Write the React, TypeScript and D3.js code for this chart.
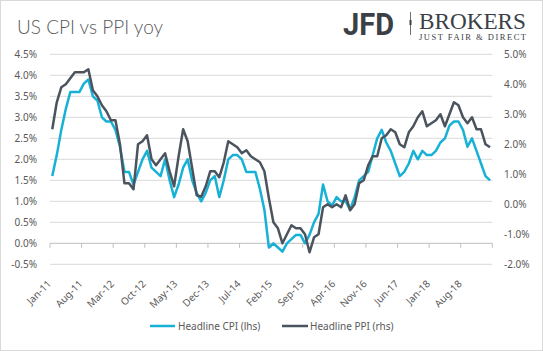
import React from 'react';
import * as d3 from 'd3';

// monthly yoy %, Jan-11 .. Feb-19
const cpi = [
  1.6, 2.1, 2.7, 3.2, 3.6, 3.6, 3.6, 3.8, 3.9, 3.5, 3.4, 3.0,
  2.9, 2.9, 2.7, 2.3, 1.7, 1.7, 1.4, 1.7, 2.0, 2.2, 1.8, 1.7,
  1.6, 2.0, 1.5, 1.1, 1.4, 1.8, 2.0, 1.5, 1.2, 1.0, 1.2, 1.5,
  1.6, 1.1, 1.5, 2.0, 2.1, 2.1, 2.0, 1.7, 1.7, 1.7, 1.3, 0.8,
  -0.1, 0.0, -0.1, -0.2, 0.0, 0.1, 0.2, 0.2, 0.0, 0.2, 0.5, 0.7,
  1.4, 1.0, 0.9, 1.1, 1.0, 1.0, 0.8, 1.1, 1.5, 1.6, 1.7, 2.1,
  2.5, 2.7, 2.4, 2.2, 1.9, 1.6, 1.7, 1.9, 2.2, 2.0, 2.2, 2.1,
  2.1, 2.2, 2.4, 2.5, 2.8, 2.9, 2.9, 2.7, 2.3, 2.5, 2.2, 1.9,
  1.6, 1.5,
];

const ppi = [
  2.5, 3.4, 3.9, 4.0, 4.2, 4.4, 4.4, 4.4, 4.5, 3.8, 3.6, 3.3,
  3.1, 2.8, 2.8, 2.0, 0.7, 0.7, 0.5, 2.0, 2.1, 2.3, 1.5, 1.3,
  1.5, 1.7, 1.1, 0.6, 1.6, 2.5, 2.1, 1.2, 0.3, 0.25, 0.6, 1.1,
  1.1, 0.9, 1.4, 2.1, 2.0, 1.9, 1.7, 1.8, 1.6, 1.5, 1.4, 1.1,
  0.2, -0.6, -0.8, -1.3, -1.0, -0.7, -0.8, -0.8, -1.0, -1.6, -1.1, -1.0,
  -0.1, 0.0, -0.1, 0.0, -0.1, 0.3, -0.2, 0.0, 0.7, 0.8, 1.3, 1.6,
  1.6, 2.2, 2.3, 2.5, 2.4, 2.0, 1.9, 2.4, 2.6, 2.9, 3.1, 2.6,
  2.7, 2.8, 3.0, 2.6, 3.0, 3.4, 3.3, 2.9, 2.7, 2.9, 2.5, 2.5,
  2.0, 1.9,
];

const leftTicks = [-0.5, 0, 0.5, 1, 1.5, 2, 2.5, 3, 3.5, 4, 4.5];
const rightTicks = [-2, -1, 0, 1, 2, 3, 4, 5];
const labelEvery = 7;

const fmtMonth = d3.timeFormat('%b-%y');
const months = d3.timeMonth.range(new Date(2011, 0, 1), new Date(2019, 2, 1)).map(fmtMonth);

const W = 543, H = 351;
const plot = { left: 50, right: 492.3, top: 54.3, bottom: 264.3 };
const cpiColor = '#17b1d6';
const ppiColor = '#4b545e';
const textColor = '#595959';
const font = "'Noto Sans', sans-serif";

const App = () => {
  const x = d3.scalePoint<string>().domain(months).range([plot.left, plot.right]).padding(0.5);
  const step = x.step();
  const yL = d3.scaleLinear().domain([-0.5, 4.5]).range([plot.bottom, plot.top]);
  const yR = d3.scaleLinear().domain([-2, 5]).range([plot.bottom, plot.top]);

  const lineL = d3.line<number>().x((d, i) => x(months[i])!).y(d => yL(d));
  const lineR = d3.line<number>().x((d, i) => x(months[i])!).y(d => yR(d));

  const tickIdx = d3.range(0, months.length + 1, labelEvery);
  const labelIdx = d3.range(0, months.length, labelEvery);

  return (
    <svg width={W} height={H} style={{ position: 'absolute', left: 0, top: 0 }} fontFamily={font}>
      <rect x={0.5} y={0.5} width={W - 1} height={H - 1} fill="#fff" stroke="#d9d9d9" />

      <text x={17} y={34} fontSize={19} fill={textColor} fontFamily="Lato, sans-serif" fontWeight={300}>US CPI vs PPI yoy</text>

      {/* logo */}
      <text x={343} y={34.5} fontSize={31} fontWeight={700} fill="#3b4047" fontFamily="Roboto, sans-serif"
        textLength={51} lengthAdjust="spacingAndGlyphs">JFD</text>
      <line x1={410.5} x2={410.5} y1={12} y2={35} stroke="#6b7077" strokeWidth={1} />
      <line x1={410.5} x2={410.5} y1={20} y2={25} stroke="#3b4047" strokeWidth={2} />
      <text x={419} y={28.5} fontSize={23} fill="#3b4047" fontFamily="'Liberation Serif', serif"
        textLength={107} lengthAdjust="spacingAndGlyphs">BROKERS</text>
      <text x={419} y={40} fontSize={8.5} fill="#3b4047" fontFamily="'Liberation Serif', serif"
        textLength={107} lengthAdjust="spacing">JUST FAIR &amp; DIRECT</text>

      {/* grid */}
      {leftTicks.map(t => (
        <line key={t} x1={plot.left} x2={plot.right} y1={yL(t)} y2={yL(t)}
          stroke={t === 0 ? '#bfbfbf' : '#d9d9d9'} strokeWidth={1} />
      ))}
      {tickIdx.map(i => {
        const tx = plot.left + i * step;
        return <line key={i} x1={tx} x2={tx} y1={yL(0)} y2={yL(0) + 4.5} stroke="#bfbfbf" />;
      })}

      {leftTicks.map(t => (
        <text key={t} x={37} y={yL(t)} dy="0.35em" textAnchor="end" fontSize={10} fill={textColor}>
          {t.toFixed(1)}%
        </text>
      ))}
      {rightTicks.map(t => (
        <text key={t} x={504} y={yR(t)} dy="0.35em" fontSize={10} fill={textColor}>
          {t.toFixed(1)}%
        </text>
      ))}

      {labelIdx.map(i => {
        const cx = x(months[i])!;
        return (
          <text key={i} transform={`translate(${cx - 3},${282}) rotate(-45)`} textAnchor="end"
            dy="0.35em" fontSize={10} fill={textColor}>{months[i]}</text>
        );
      })}

      <path d={lineL(cpi)!} fill="none" stroke={cpiColor} strokeWidth={2.5} strokeLinejoin="round" />
      <path d={lineR(ppi)!} fill="none" stroke={ppiColor} strokeWidth={2.5} strokeLinejoin="round" />

      {/* legend */}
      <line x1={150} x2={175} y1={326} y2={326} stroke={cpiColor} strokeWidth={2.5} />
      <text x={178} y={326} dy="0.35em" fontSize={10} fill={textColor}>Headline CPI (lhs)</text>
      <line x1={282} x2={308} y1={326} y2={326} stroke={ppiColor} strokeWidth={2.5} />
      <text x={310} y={326} dy="0.35em" fontSize={10} fill={textColor}>Headline PPI (rhs)</text>
    </svg>
  );
};

export default App;
